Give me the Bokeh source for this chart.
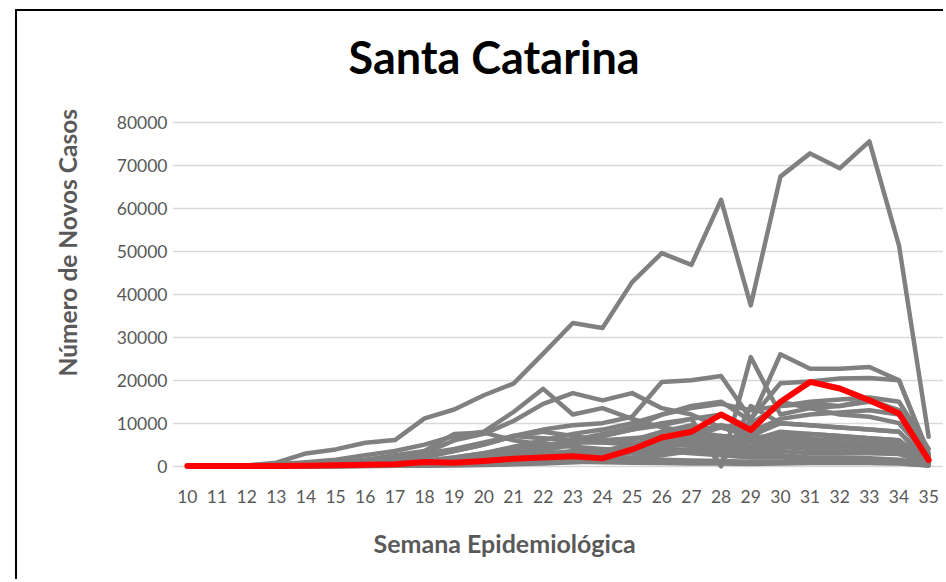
from bokeh.plotting import figure
from bokeh.models import FixedTicker, PrintfTickFormatter, Range1d, Title
from bokeh.embed import file_html
from bokeh.resources import INLINE

weeks = list(range(10, 36))
tick_labels = [str(w) for w in weeks]
y_ticks = [0, 10000, 20000, 30000, 40000, 50000, 60000, 70000, 80000]

santa_catarina = [0, 0, 10, 30, 100, 200, 300, 400, 930, 770, 1200, 1700, 2000, 2300, 1790, 3880, 6670, 7990, 12020, 8370, 14960, 19610, 18070, 15350, 12250, 1400]

sao_paulo = [0, 30, 150, 770, 2950, 3880, 5430, 6050, 11100, 13180, 16500, 19230, 26200, 33330, 32170, 42870, 49620, 46900, 62030, 37450, 67450, 72870, 69390, 75670, 51400, 6820]
minas_gerais = [0, 10, 30, 80, 150, 250, 400, 600, 1000, 1500, 2000, 3000, 4500, 6000, 7500, 9000, 12000, 14000, 15000, 10500, 26050, 22700, 22700, 23100, 20000, 3000]
rio_de_janeiro = [0, 5, 40, 200, 600, 900, 1300, 1800, 2500, 3500, 5000, 7000, 8500, 9500, 10000, 11500, 19600, 20000, 21000, 11000, 19300, 19700, 20400, 20500, 20000, 2500]
bahia = [0, 0, 10, 40, 100, 200, 400, 600, 900, 1500, 2000, 3000, 4500, 6000, 7000, 8500, 9500, 11000, 0, 25400, 12000, 13500, 14000, 15000, 13000, 2000]
ceara = [0, 20, 100, 400, 900, 1500, 2500, 3500, 5000, 7000, 8000, 12600, 18000, 12000, 13500, 11000, 9000, 8000, 7000, 6500, 7000, 6500, 5500, 5000, 4500, 1000]
para = [0, 0, 10, 50, 150, 400, 800, 1500, 3000, 6000, 7500, 10500, 14500, 17000, 15300, 17000, 13500, 12000, 9000, 7000, 6500, 5500, 5000, 4500, 4000, 800]
goias = [0, 0, 10, 30, 100, 200, 400, 700, 1200, 2000, 3000, 4500, 6000, 7500, 8500, 10000, 12000, 13500, 14500, 13000, 14000, 14500, 14000, 15500, 13000, 2500]
rio_grande_do_sul = [0, 10, 30, 60, 100, 150, 200, 300, 400, 500, 700, 900, 1200, 1800, 2500, 3500, 5000, 7000, 9000, 10000, 14000, 15000, 15500, 16000, 15000, 4000]
parana = [0, 5, 20, 40, 80, 100, 150, 200, 300, 400, 600, 900, 1500, 2500, 3500, 5000, 6500, 8000, 9500, 8000, 11000, 12000, 12500, 13000, 12000, 2500]
distrito_federal = [0, 20, 60, 100, 150, 200, 300, 500, 800, 1200, 1800, 2500, 3500, 5000, 7000, 8500, 10000, 11000, 12000, 9000, 15000, 13500, 12000, 11500, 10000, 2000]
amazonas = [0, 0, 10, 100, 400, 800, 1500, 2500, 3500, 7500, 7800, 6000, 5000, 4500, 4000, 3500, 3000, 3500, 4000, 3000, 3500, 3000, 3000, 3000, 2800, 500]
pernambuco = [0, 10, 40, 100, 300, 600, 1000, 1800, 2800, 4000, 5500, 7000, 6500, 6000, 5500, 5000, 5000, 5500, 7000, 6000, 8000, 7500, 7000, 6500, 6000, 600]
maranhao = [0, 0, 5, 20, 80, 200, 500, 1000, 2000, 3500, 5000, 7000, 8000, 7000, 6000, 5000, 6000, 5500, 5000, 4000, 5000, 4500, 4000, 4000, 3500, 400]
espirito_santo = [0, 5, 20, 50, 100, 200, 400, 700, 1200, 2000, 3000, 4000, 5000, 5500, 5500, 6000, 8000, 8500, 9000, 7000, 10000, 9500, 9000, 8500, 8000, 800]
paraiba = [0, 0, 5, 10, 30, 80, 200, 400, 800, 1500, 2500, 3500, 4500, 5500, 6000, 6500, 7000, 6500, 6000, 5500, 6000, 6000, 5500, 5000, 5000, 600]
rio_grande_do_norte = [0, 5, 10, 20, 50, 100, 200, 300, 500, 900, 1500, 2000, 2500, 3000, 3500, 3800, 4000, 3500, 3000, 2500, 2500, 2000, 2000, 1800, 1500, 300]
piaui = [0, 0, 5, 10, 30, 60, 100, 200, 400, 700, 1000, 1500, 2000, 2800, 3500, 4000, 6000, 6500, 7000, 6000, 7500, 7500, 7000, 6500, 6000, 800]
alagoas = [0, 0, 5, 10, 20, 50, 100, 200, 400, 700, 1200, 2000, 2800, 3500, 3800, 4000, 3500, 3000, 2500, 2000, 2000, 1800, 1600, 1500, 1200, 300]
sergipe = [0, 0, 5, 10, 20, 40, 80, 150, 300, 600, 1000, 1500, 2000, 2800, 3500, 4000, 5000, 5000, 4500, 4000, 4500, 4000, 3800, 3500, 3000, 400]
mato_grosso = [0, 0, 5, 10, 20, 40, 80, 120, 200, 300, 500, 800, 1200, 2000, 3000, 4500, 8000, 9500, 0, 14000, 10000, 9500, 9000, 8500, 8000, 1000]
rondonia = [0, 0, 5, 10, 20, 40, 80, 150, 300, 500, 800, 1200, 1500, 2000, 2500, 3000, 4500, 5000, 5500, 4500, 6000, 5500, 5000, 4500, 4000, 500]
amapa = [0, 0, 5, 10, 30, 80, 200, 400, 700, 1000, 1300, 1500, 1800, 2000, 1800, 1500, 1200, 1000, 800, 700, 900, 1000, 1200, 1000, 900, 200]
tocantins = [0, 0, 0, 5, 10, 20, 40, 80, 150, 300, 500, 700, 1000, 1300, 1600, 2000, 3500, 4000, 4500, 3500, 4500, 4800, 5000, 4800, 4500, 600]
acre = [0, 0, 5, 10, 20, 50, 100, 200, 350, 500, 700, 800, 900, 1000, 900, 800, 700, 600, 600, 500, 600, 700, 800, 700, 600, 150]
roraima = [0, 0, 0, 5, 10, 30, 80, 150, 300, 500, 700, 1000, 1300, 1800, 2000, 1800, 1500, 1300, 1200, 1000, 1000, 900, 800, 800, 700, 150]
mato_grosso_do_sul = [0, 0, 5, 10, 20, 30, 40, 60, 100, 150, 250, 400, 600, 900, 1300, 1800, 2500, 3500, 4500, 3000, 5500, 6000, 6500, 6000, 5500, 1500]

other_states = [sao_paulo, minas_gerais, rio_de_janeiro, bahia, ceara, para, goias,
                rio_grande_do_sul, parana, distrito_federal, amazonas, pernambuco,
                maranhao, espirito_santo, paraiba, rio_grande_do_norte, piaui, alagoas,
                sergipe, mato_grosso, rondonia, amapa, tocantins, acre, roraima,
                mato_grosso_do_sul]

FONT = "Lato"
LABEL_COLOR = "#595959"

p = figure(width=928, height=570, output_backend="svg", toolbar_location=None,
           x_range=Range1d(9.5, 35.5), y_range=Range1d(-1500, 81000),
           min_border_left=155, min_border_right=2, min_border_top=107,
           min_border_bottom=109)
p.styles = {"margin-left": "15px", "margin-top": "9px",
            "border-left": "2px solid #000000", "border-top": "2px solid #000000"}

# title: a trailing empty line with reduced line height lifts it above the plot
p.title.text = "Santa Catarina\n"
p.title.text_font = FONT
p.title.text_font_style = "bold"
p.title.text_font_size = "45px"
p.title.text_color = "#000000"
p.title.text_line_height = 0.64
p.title.align = "left"
p.title.offset = 176
p.title.standoff = 0

for series in other_states:
    p.line(weeks, series, line_color="#808080", line_width=4.5,
           line_join="round", line_cap="round")
p.line(weeks, santa_catarina, line_color="#FF0000", line_width=6,
       line_join="round", line_cap="round")

p.xaxis.ticker = FixedTicker(ticks=weeks)
p.xaxis.major_label_overrides = {w: t for w, t in zip(weeks, tick_labels)}
p.yaxis.ticker = FixedTicker(ticks=y_ticks)
p.yaxis.formatter = PrintfTickFormatter(format="%d")
for ax in (p.xaxis[0], p.yaxis[0]):
    ax.axis_line_color = None
    ax.major_tick_line_color = None
    ax.minor_tick_line_color = None
    ax.major_tick_in = 0
    ax.major_tick_out = 0
    ax.major_label_text_font = FONT
    ax.major_label_text_font_size = "17.5px"
    ax.major_label_text_color = LABEL_COLOR
p.xaxis.major_label_standoff = 17
p.yaxis.major_label_standoff = 5

p.xgrid.grid_line_color = None
p.ygrid.grid_line_color = "#D9D9D9"
p.ygrid.grid_line_width = 1.3
p.outline_line_color = None

p.add_layout(Title(text="Semana Epidemiológica", text_font=FONT, text_font_style="bold",
                   text_font_size="25px", text_color=LABEL_COLOR, align="left",
                   offset=201, standoff=40), "below")
p.add_layout(Title(text="Número de Novos Casos", text_font=FONT, text_font_style="bold",
                   text_font_size="24.5px", text_color=LABEL_COLOR, align="left",
                   offset=96, standoff=64), "left")

open("out.html", "w").write(file_html(p, INLINE))
